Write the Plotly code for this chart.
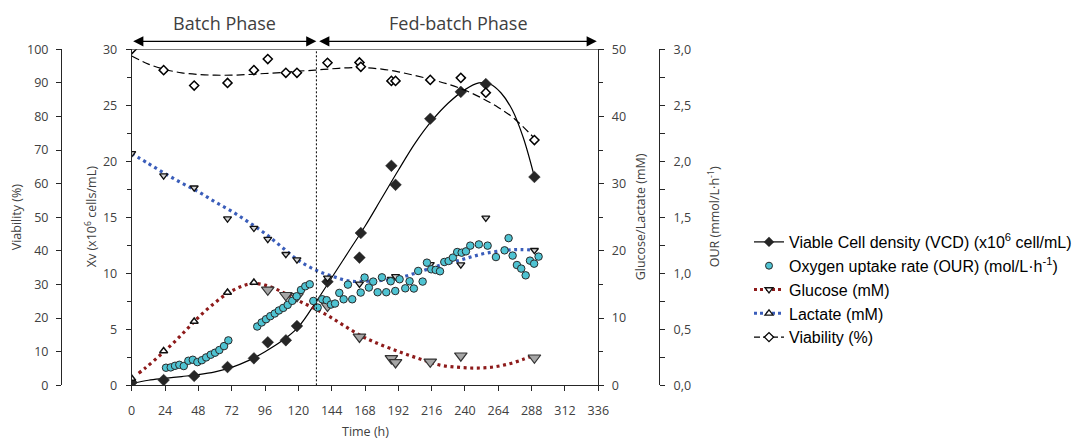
import plotly.graph_objects as go

W, H = 1082, 443

# ---- time axis
time_ticks = list(range(0, 337, 24))
time_max = 336
feed_start_h = 133          # start of the fed-batch phase
batch_label_h = (0 + feed_start_h) / 2
fed_arrow_start_h = 135
fed_label_h = (fed_arrow_start_h + time_max) / 2

# ---- viable cell density (x10^6 cells/mL)
vcd_t = [0, 23, 45, 69, 88, 98, 111, 119, 141, 164, 165, 187, 190, 215, 237, 255, 290]
vcd = [0.25, 0.47, 0.83, 1.63, 2.41, 3.84, 4.02, 5.29, 9.25, 11.4, 13.6, 19.6, 17.9, 23.8, 26.2, 26.9, 18.6]
vcd_fit_t = [0, 12, 24, 36, 48, 60, 72, 84, 96, 108, 120, 133, 144, 156, 168, 180, 192, 204,
             216, 228, 240, 250, 258, 266, 274, 282, 290]
vcd_fit = [0.15, 0.45, 0.62, 0.78, 0.95, 1.2, 1.6, 2.2, 3.0, 3.95, 5.2, 7.5, 9.6, 11.9, 14.2, 16.7,
           19.2, 21.6, 23.6, 25.2, 26.4, 27.0, 26.9, 26.1, 24.6, 22.1, 18.6]

# ---- viability (%)
via_t = [0, 23, 45, 69, 88, 98, 111, 119, 141, 164, 165, 187, 190, 215, 237, 255, 290]
via = [100, 93.8, 89.2, 90.0, 93.8, 97.1, 93.0, 93.0, 96.0, 96.1, 94.8, 90.6, 90.6, 90.9, 91.5, 87.1, 73.0]
via_fit_t = [0, 12, 24, 36, 48, 60, 72, 84, 96, 108, 120, 132, 144, 156, 168, 180, 192, 204,
             216, 228, 240, 252, 264, 276, 290]
via_fit = [98.0, 95.6, 94.0, 93.0, 92.5, 92.3, 92.3, 92.5, 92.8, 93.1, 93.5, 93.8, 94.2, 94.5, 94.5,
           94.1, 93.3, 92.2, 91.0, 89.6, 87.8, 85.5, 82.7, 79.2, 73.5]

# ---- oxygen uptake rate (mmol/L/h)
our_t = [24.7, 28.1, 31.2, 34.3, 37.5, 40.8, 44.0, 47.3, 50.5, 53.6, 56.9, 60.0, 63.1, 66.5, 69.6,
         90.4, 93.6, 96.7, 99.8, 103.0, 106.0, 109.1, 112.3, 115.6, 118.8, 121.9, 125.0, 128.2,
         130.8, 133.9, 137.2, 140.4, 143.5, 146.4, 149.5, 152.6, 155.7, 158.8, 164.9, 167.7,
         170.8, 173.9, 177.1, 180.2, 183.3, 186.5, 189.8, 192.9, 197.0, 200.1, 203.2, 206.3,
         209.5, 212.6, 215.7, 218.9, 222.0, 225.1, 228.2, 231.3, 234.4, 237.6, 240.7, 243.8,
         250.0, 256.3, 262.3, 268.5, 271.4, 274.3, 277.4, 280.5, 283.7, 286.8, 289.8, 293.0]
our = [0.157, 0.160, 0.174, 0.183, 0.172, 0.219, 0.228, 0.207, 0.224, 0.249, 0.273, 0.291, 0.315,
       0.350, 0.401,
       0.525, 0.561, 0.590, 0.617, 0.641, 0.668, 0.691, 0.718, 0.754, 0.795, 0.851, 0.884, 0.902,
       0.753, 0.694, 0.768, 0.760, 0.721, 0.730, 0.825, 0.768, 0.899, 0.768, 0.828, 0.962,
       0.873, 0.926, 0.831, 0.964, 0.831, 0.929, 0.842, 0.947, 0.866, 0.929, 0.864, 1.021,
       0.926, 1.095, 1.036, 1.030, 1.018, 1.101, 1.110, 1.140, 1.190, 1.184, 1.196, 1.247,
       1.258, 1.247, 1.145, 1.205, 1.314, 1.158, 1.074, 1.042, 0.982, 1.113, 1.086, 1.149]

# ---- glucose (mM)
glc_t = [0, 23, 45, 69, 88, 98, 111, 119, 141, 164, 187, 190, 215, 237, 290]
glc = [1.0, 5.1, 9.5, 13.8, 15.3, 14.2, 13.4, 13.25, 11.8, 7.2, 4.0, 3.4, 3.5, 4.4, 4.1]
glc_fit_t = [5, 10, 20, 30, 40, 50, 60, 70, 80, 88, 96, 104, 112, 120, 130, 141, 152, 164, 174,
             186, 198, 210, 222, 234, 246, 258, 270, 282, 290]
glc_fit = [1.8, 2.6, 4.4, 6.3, 8.4, 10.5, 12.3, 13.8, 14.8, 15.15, 14.9, 14.3, 13.5, 12.6, 11.6,
           10.4, 9.0, 7.5, 6.5, 5.5, 4.6, 3.75, 3.0, 2.7, 2.57, 2.67, 3.1, 3.86, 4.5]

# ---- lactate (mM)
lac_t = [0, 23, 45, 69, 88, 98, 111, 119, 141, 164, 187, 190, 215, 237, 255, 290]
lac = [34.5, 31.2, 29.4, 24.8, 23.4, 21.75, 19.5, 18.7, 16.0, 15.1, 15.8, 16.2, 18.0, 17.95, 24.9, 20.1]
lac_fit_t = [0, 12, 24, 36, 48, 60, 72, 84, 96, 108, 120, 133, 145, 157, 169, 180, 191, 203, 215,
             226, 236, 246, 256, 270, 280, 290]
lac_fit = [34.5, 33.0, 31.5, 30.1, 28.8, 27.3, 25.9, 24.3, 22.6, 20.6, 18.6, 17.1, 16.2, 15.5,
           15.5, 15.6, 15.9, 16.6, 17.4, 18.1, 18.6, 19.2, 19.7, 20.1, 20.2, 20.1]

# ---- styling
INK = "#262626"
TXT = "#404040"
RED = "#8E1B1B"
BLUE = "#3A5DBA"
CYAN = "#4FC3D2"
TICK_FONT = dict(family="Open Sans", size=12.5, color=TXT)
dotted = "3px,3.6px"

fig = go.Figure()

# viability
fig.add_trace(go.Scatter(x=via_fit_t, y=via_fit, yaxis="y2", mode="lines", showlegend=False,
                         line=dict(color="black", width=1.2, dash="8px,4px", shape="spline")))
fig.add_trace(go.Scatter(x=via_t, y=via, yaxis="y2", mode="markers", showlegend=False,
                         marker=dict(symbol="diamond", size=7, color="white",
                                     line=dict(color="black", width=1.5))))

# VCD
fig.add_trace(go.Scatter(x=vcd_fit_t, y=vcd_fit, yaxis="y", mode="lines", showlegend=False,
                         line=dict(color="black", width=1.2, shape="spline")))
fig.add_trace(go.Scatter(x=vcd_t, y=vcd, yaxis="y", mode="markers", showlegend=False,
                         marker=dict(symbol="diamond", size=9, color=INK,
                                     line=dict(color=INK, width=0.5))))

# lactate
fig.add_trace(go.Scatter(x=lac_fit_t, y=lac_fit, yaxis="y3", mode="lines", showlegend=False,
                         line=dict(color=BLUE, width=3.2, dash=dotted, shape="spline")))
fig.add_trace(go.Scatter(x=lac_t, y=lac, yaxis="y3", mode="markers", showlegend=False,
                         marker=dict(symbol="triangle-down", size=7, color="#d4d4d4",
                                     line=dict(color="#111", width=1.3))))

# glucose
fig.add_trace(go.Scatter(x=glc_fit_t, y=glc_fit, yaxis="y3", mode="lines", showlegend=False,
                         line=dict(color=RED, width=3.2, dash=dotted, shape="spline")))
early = [i for i, t in enumerate(glc_t) if t <= 90]
late = [i for i, t in enumerate(glc_t) if t > 90]
fig.add_trace(go.Scatter(x=[glc_t[i] for i in early], y=[glc[i] for i in early], yaxis="y3",
                         mode="markers", showlegend=False,
                         marker=dict(symbol="triangle-up", size=7, color="white",
                                     line=dict(color="#111", width=1.5))))
fig.add_trace(go.Scatter(x=[glc_t[i] for i in late], y=[glc[i] for i in late], yaxis="y3",
                         mode="markers", showlegend=False,
                         marker=dict(symbol="triangle-down", size=11, color="#A6A6A6",
                                     line=dict(color="#333", width=1.2))))

# OUR
fig.add_trace(go.Scatter(x=our_t, y=our, yaxis="y4", mode="markers", showlegend=False,
                         marker=dict(symbol="circle", size=7.5, color=CYAN,
                                     line=dict(color="#2a2a2a", width=1))))

# legend entries
legend_items = [
    ("Viable Cell density (VCD) (x10<sup>6</sup> cell/mL)", "lines+markers",
     dict(color="black", width=1.2), dict(symbol="diamond", size=8, color=INK)),
    ("Oxygen uptake rate (OUR) (mol/L·h<sup>-1</sup>)", "markers", None,
     dict(symbol="circle", size=7, color=CYAN, line=dict(color="#2a2a2a", width=1))),
    ("Glucose (mM)", "lines+markers", dict(color=RED, width=3, dash="3px,3px"),
     dict(symbol="triangle-down", size=7, color="white", line=dict(color="#111", width=1.3))),
    ("Lactate (mM)", "lines+markers", dict(color=BLUE, width=3, dash="3px,3px"),
     dict(symbol="triangle-up", size=7, color="white", line=dict(color="#111", width=1.3))),
    ("Viability (%)", "lines+markers", dict(color="black", width=1.2, dash="6px,3px"),
     dict(symbol="diamond", size=7, color="white", line=dict(color="black", width=1.3))),
]
for name, mode, ln, mk in legend_items:
    kw = dict(x=[None], y=[None], name=name, mode=mode, marker=mk, showlegend=True)
    if ln is not None:
        kw["line"] = ln
    fig.add_trace(go.Scatter(**kw))

# ---- geometry (pixels)
x0_px, x1_px = 131.7, 598.3
ytop_px, ybot_px = 49.3, 385.3
xdom = [x0_px / W, x1_px / W]
ydom = [1 - ybot_px / H, 1 - ytop_px / H]

axis_common = dict(showline=True, linecolor=INK, linewidth=1, ticks="outside", tickcolor=INK,
                   ticklen=5, tickwidth=1, showgrid=False, zeroline=False, tickfont=TICK_FONT)

fig.update_layout(
    width=W, height=H, margin=dict(l=0, r=0, t=0, b=0, autoexpand=False),
    paper_bgcolor="white", plot_bgcolor="white",
    separators=",.",
    xaxis=dict(domain=xdom, range=[0, time_max], tickvals=time_ticks,
               ticklabelstandoff=9, **axis_common),
    yaxis=dict(domain=ydom, range=[0, 30], dtick=5, anchor="x", side="left",
               minor=dict(dtick=2.5, ticks="outside", ticklen=4, tickcolor=INK),
               ticklabelstandoff=6, **axis_common),
    yaxis2=dict(range=[0, 100], dtick=10, overlaying="y", anchor="free", side="left",
                position=61 / W, ticklabelstandoff=5, **axis_common),
    yaxis3=dict(range=[0, 50], dtick=10, overlaying="y", anchor="x", side="right",
                minor=dict(dtick=5, ticks="outside", ticklen=4, tickcolor=INK),
                ticklabelstandoff=5, **axis_common),
    yaxis4=dict(range=[0, 3], dtick=0.5, tickformat=".1f", overlaying="y", anchor="free",
                side="right", position=659 / W,
                minor=dict(dtick=0.25, ticks="outside", ticklen=5, tickcolor=INK),
                ticklabelstandoff=6, **axis_common),
    legend=dict(x=749 / W, y=1 - 225 / H, xanchor="left", yanchor="top",
                font=dict(family="Liberation Sans", size=16, color="black"),
                bgcolor="rgba(0,0,0,0)", tracegroupgap=0, itemwidth=30),
    showlegend=True,
)

# top edge of the plot frame
fig.add_shape(type="line", xref="x", yref="y", x0=0, x1=time_max, y0=30, y1=30,
              line=dict(color=INK, width=1))

# phase boundary
fig.add_shape(type="line", xref="x", yref="y", x0=feed_start_h, x1=feed_start_h, y0=0, y1=30,
              line=dict(color="black", width=1, dash="2px,2px"))

# phase arrows (double-headed), drawn just above the frame
arrow_y = 1 - 41.3 / H
for tip, tail in [(feed_start_h, 0), (fed_arrow_start_h, time_max)]:
    fig.add_annotation(x=tip, y=arrow_y, ax=tail, ay=0, xref="x", yref="paper",
                       axref="x", ayref="pixel",
                       text="", showarrow=True, arrowhead=2, startarrowhead=2,
                       arrowside="end+start", arrowsize=1.7, startarrowsize=1.7,
                       arrowwidth=1.2, arrowcolor="black", standoff=0, startstandoff=0)

phase_font = dict(family="Open Sans", size=18, color=TXT)
fig.add_annotation(x=batch_label_h, y=1 - 23.3 / H, xref="x", yref="paper", text="Batch Phase",
                   showarrow=False, font=phase_font, xanchor="center", yanchor="middle")
fig.add_annotation(x=fed_label_h, y=1 - 23.3 / H, xref="x", yref="paper", text="Fed-batch Phase",
                   showarrow=False, font=phase_font, xanchor="center", yanchor="middle")

# axis titles
title_font = dict(family="Open Sans", size=12.5, color=TXT)
ymid = 1 - (ytop_px + ybot_px) / 2 / H
for xpx, txt in [(16, "Viability (%)"), (91, "Xv (x10<sup>6</sup> cells/mL)"),
                 (640, "Glucose/Lactate (mM)"), (714, "OUR (mmol/L·h<sup>-1</sup>)")]:
    fig.add_annotation(x=xpx / W, y=ymid, xref="paper", yref="paper", text=txt, textangle=-90,
                       showarrow=False, font=title_font, xanchor="center", yanchor="middle")
fig.add_annotation(x=(x0_px + x1_px) / 2 / W, y=1 - 442 / H, xref="paper", yref="paper",
                   text="Time (h)", showarrow=False, font=title_font,
                   xanchor="center", yanchor="bottom")

fig.write_html("out.html")
